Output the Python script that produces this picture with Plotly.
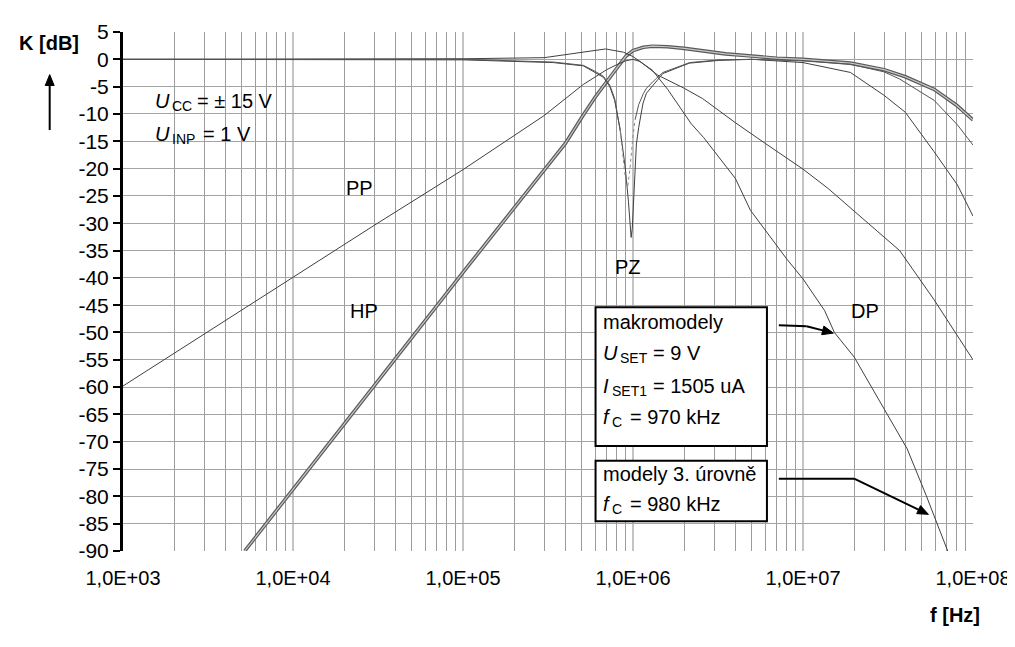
import math
import plotly.graph_objects as go

# ---------------- data ----------------
x_tick_vals = [1e3, 1e4, 1e5, 1e6, 1e7, 1e8]
x_tick_text = ["1,0E+03", "1,0E+04", "1,0E+05", "1,0E+06", "1,0E+07", "1,0E+08"]
y_tick_vals = [5, 0, -5, -10, -15, -20, -25, -30, -35, -40, -45, -50, -55, -60,
               -65, -70, -75, -80, -85, -90]

# HP (high-pass) - two models practically overlapping
hp_f = [5.2e3, 1e4, 3e4, 1e5, 2e5, 3e5, 4e5, 5.1e5, 6e5, 7e5, 8e5, 9.1e5, 1e6,
        1.15e6, 1.3e6, 1.6e6, 2e6, 2.6e6, 3.5e6, 5e6, 7e6, 1e7, 1.4e7, 1.9e7,
        3e7, 4e7, 5.9e7, 8e7, 1e8]
hp_db = [-90.0, -78.7, -59.6, -39.0, -27.2, -20.4, -15.4, -10.2, -6.9, -4.1,
         -1.7, 0.6, 1.6, 2.2, 2.4, 2.3, 2.0, 1.5, 1.0, 0.6, 0.2, 0.0, -0.3,
         -0.7, -1.9, -3.2, -5.5, -8.4, -11.1]

# PP (band-pass)
pp_f = [1e3, 3e3, 1e4, 3e4, 1e5, 1.74e5, 3e5, 5.1e5, 7e5, 8e5, 9e5, 1e6, 1.1e6,
        1.4e6, 2e6, 2.57e6, 4e6, 6e6, 1e7, 1.4e7, 1.9e7, 2.7e7, 3.7e7, 5.9e7,
        8e7, 1e8]
pp_db = [-59.8, -50.3, -40.0, -30.4, -20.2, -15.2, -10.3, -4.6, -1.9, -1.0,
         -0.3, 0.0, -0.4, -2.9, -5.3, -7.2, -11.6, -15.4, -20.1, -23.6, -27.2,
         -31.3, -35.0, -44.0, -50.4, -55.0]

# DP (low-pass)
dp_f = [1e3, 1e5, 3e5, 5.1e5, 6.9e5, 8.8e5, 1e6, 1.3e6, 1.6e6, 2.2e6, 2.6e6,
        4e6, 4.9e6, 8e6, 1e7, 1.34e7, 1.53e7, 2e7, 3e7, 4.1e7, 5.3e7, 7.1e7]
dp_db = [0.0, 0.1, 0.3, 1.3, 1.9, 1.3, 0.5, -2.0, -5.5, -11.8, -14.3, -21.8,
         -27.6, -36.5, -40.2, -46.0, -50.0, -54.5, -64.0, -71.3, -79.8, -90.0]

# PZ (notch) - macromodel
pz_m_f = [1e3, 1e5, 3.4e5, 5.1e5, 5.9e5, 6.7e5, 7.3e5, 7.8e5, 8.4e5, 9e5,
          9.4e5, 9.6e5, 9.75e5, 9.9e5, 1.007e6, 1.026e6, 1.047e6, 1.08e6,
          1.146e6, 1.2e6, 1.37e6, 1.5e6, 1.95e6, 2.15e6, 3.2e6, 5e6, 1e7,
          1.9e7, 3e7, 4e7, 5.9e7, 8.1e7, 1e8]
pz_m_db = [0.0, -0.1, -0.6, -1.2, -2.3, -3.3, -5.0, -7.5, -12.8, -19.8, -26.0,
           -30.5, -32.6, -31.0, -26.0, -20.0, -15.5, -12.5, -8.0, -6.2, -4.0,
           -2.6, -1.2, -0.7, -0.2, 0.0, -0.6, -2.4, -6.6, -9.7, -16.9, -23.0,
           -28.7]

# PZ (notch) - level 3 model
pz_3_f = [1e3, 1e5, 3.4e5, 5.1e5, 5.9e5, 6.7e5, 7.3e5, 7.8e5, 8.4e5, 9e5,
          9.3e5, 9.6e5, 1e6, 1.03e6, 1.08e6, 1.15e6, 1.2e6, 1.37e6, 1.5e6,
          1.95e6, 2.15e6, 3.2e6, 5e6, 1e7, 1.9e7, 3e7, 3.7e7, 5.9e7, 8.1e7,
          1e8]
pz_3_db = [0.0, 0.0, -0.5, -1.1, -2.1, -3.1, -4.7, -7.2, -13.0, -21.5, -23.5,
           -20.0, -14.0, -11.0, -8.3, -6.3, -5.3, -3.5, -2.4, -1.1, -0.6, -0.1,
           0.0, -0.3, -0.9, -2.3, -3.6, -7.5, -12.0, -15.7]
pz_3_dotted_from, pz_3_dotted_to = 8.4e5, 1.03e6

# ---------------- helpers for layout placement (pixels -> paper) ----------------
L, R, T, B = 115, 973, 19, 543


def px(x):
    return (x - L) / (R - L)


def py(y):
    return (B - y) / (B - T)


FONT = "Liberation Sans, Arial, sans-serif"
CURVE = "#404040"

fig = go.Figure()


def add_line(xs, ys, color=CURVE, width=1.0, dash="solid"):
    fig.add_trace(go.Scatter(x=xs, y=ys, mode="lines",
                             line=dict(color=color, width=width, dash=dash),
                             hoverinfo="skip", showlegend=False))


# HP drawn as a double (outlined) stroke
add_line(hp_f, hp_db, color="#5a5a5a", width=3.6)
add_line(hp_f, hp_db, color="#c8c8c8", width=1.2)
add_line(pp_f, pp_db)
add_line(dp_f, dp_db)
add_line(pz_m_f, pz_m_db)

seg_a = [(f, d) for f, d in zip(pz_3_f, pz_3_db) if f <= pz_3_dotted_from]
seg_b = [(f, d) for f, d in zip(pz_3_f, pz_3_db)
         if pz_3_dotted_from <= f <= pz_3_dotted_to]
seg_c = [(f, d) for f, d in zip(pz_3_f, pz_3_db) if f >= pz_3_dotted_to]
add_line([p[0] for p in seg_a], [p[1] for p in seg_a], color="#555555")
add_line([p[0] for p in seg_b], [p[1] for p in seg_b], color="#8a8a8a", dash="dot")
add_line([p[0] for p in seg_c], [p[1] for p in seg_c], color="#555555")

minor_vals = [m * 10 ** e for e in range(3, 8) for m in range(2, 10)]

fig.update_layout(
    width=1015, height=647,
    margin=dict(l=L, r=1015 - R, t=T, b=647 - B, pad=0),
    paper_bgcolor="white", plot_bgcolor="white",
    font=dict(family=FONT, color="black", size=20),
    xaxis=dict(
        type="log", range=[3, 8], tickmode="array",
        tickvals=x_tick_vals, ticktext=x_tick_text,
        showgrid=True, gridcolor="#c4c4c4", gridwidth=2,
        ticks="", showline=False, zeroline=False,
        tickfont=dict(family=FONT, size=20, color="black"),
        ticklabelstandoff=13,
        minor=dict(tickmode="array", tickvals=minor_vals, showgrid=True,
                   gridcolor="#9c9c9c", gridwidth=1, ticks=""),
    ),
    yaxis=dict(
        range=[-90, 5], tickmode="array", tickvals=y_tick_vals,
        ticktext=[str(v) for v in y_tick_vals],
        showgrid=True, gridcolor="#a4a4a4", gridwidth=1,
        zeroline=False, showline=True, linecolor="black", linewidth=3,
        ticks="outside", ticklen=7, tickwidth=2, tickcolor="black",
        tickfont=dict(family=FONT, size=21, color="black"),
    ),
)

shapes = []
# 0 dB axis line with decade ticks
shapes.append(dict(type="line", xref="x", yref="y", x0=3, x1=8, y0=0, y1=0,
                   line=dict(color="black", width=3), layer="above"))
for k in range(4, 9):
    shapes.append(dict(type="line", xref="x", yref="y", x0=k, x1=k,
                       ysizemode="pixel", yanchor=0, y0=0, y1=-7,
                       line=dict(color="black", width=3), layer="above"))

# white label backgrounds (hide grid)
for (x0, y0, x1, y1) in [(137, 74, 292, 152), (333, 160, 391, 196),
                         (337, 284, 395, 322), (605, 240, 663, 277),
                         (842, 285, 900, 320)]:
    shapes.append(dict(type="rect", xref="paper", yref="paper",
                       x0=px(x0), x1=px(x1), y0=py(y1), y1=py(y0),
                       fillcolor="white", line=dict(width=0), layer="between"))

# legend-like boxes
for (x0, y0, x1, y1) in [(592, 297, 765, 437), (592, 452, 765, 513)]:
    shapes.append(dict(type="rect", xref="paper", yref="paper",
                       x0=px(x0), x1=px(x1), y0=py(y1), y1=py(y0),
                       fillcolor="white", line=dict(color="black", width=2),
                       layer="above"))
# connector lines from the boxes
shapes.append(dict(type="line", xref="paper", yref="paper",
                   x0=px(777), x1=px(805), y0=py(315), y1=py(316),
                   line=dict(color="black", width=2), layer="above"))
shapes.append(dict(type="line", xref="paper", yref="paper",
                   x0=px(777), x1=px(853), y0=py(470), y1=py(470),
                   line=dict(color="black", width=2), layer="above"))


def arrow(x0, y0, x1, y1, width=2, head_len=11, head_w=4.5):
    """Arrow drawn as a line plus a filled triangular head (pixel coords)."""
    dx, dy = x1 - x0, y1 - y0
    n = math.hypot(dx, dy)
    ux, uy = dx / n, dy / n
    bx, by = x1 - ux * head_len, y1 - uy * head_len
    shapes.append(dict(type="line", xref="paper", yref="paper",
                       x0=px(x0), y0=py(y0), x1=px(bx + ux), y1=py(by + uy),
                       line=dict(color="black", width=width), layer="above"))
    p1 = (bx - uy * head_w, by + ux * head_w)
    p2 = (bx + uy * head_w, by - ux * head_w)
    path = "M {} {} L {} {} L {} {} Z".format(px(x1), py(y1), px(p1[0]), py(p1[1]),
                                               px(p2[0]), py(p2[1]))
    shapes.append(dict(type="path", xref="paper", yref="paper", path=path,
                       fillcolor="black", line=dict(color="black", width=1),
                       layer="above"))


arrow(41, 118, 41, 62)
arrow(927, 645, 977, 645)
arrow(805, 316, 832, 323)
arrow(853, 470, 928, 506)

fig.update_layout(shapes=shapes)

ann = []


def text(x, y, s, size=20, anchor="left", style="normal", weight="normal"):
    ann.append(dict(xref="paper", yref="paper", x=px(x), y=py(y), text=s,
                    showarrow=False, xanchor=anchor, yanchor="middle",
                    font=dict(family=FONT, size=size, color="black",
                              style=style, weight=weight)))


def symbol_line(y, x_sym, sym, x_sub, sub, x_rest, rest):
    """Italic symbol + subscript + rest, each as its own sized text."""
    text(x_sym, y, sym, style="italic")
    text(x_sub, y + 5, sub, size=14)
    text(x_rest, y, rest)


text(40, 30, "K [dB]", anchor="center", weight="bold")
text(955, 608, "f [Hz]", anchor="center", weight="bold")

symbol_line(89, 145, "U", 162, "CC", 188, "= ± 15 V")
symbol_line(122, 145, "U", 162, "INP", 194, "= 1 V")
text(338, 176, "PP")
text(342, 301, "HP")
text(610, 256, "PZ")
text(848, 301, "DP")

text(598, 312, "makromodely")
symbol_line(343, 598, "U", 615, "SET", 648, "= 9 V")
symbol_line(376, 598, "I", 607, "SET1", 648, "= 1505 uA")
symbol_line(408, 598, "f", 607, "C", 625, "= 970 kHz")
text(598, 465, "modely 3. úrovně")
symbol_line(496, 598, "f", 607, "C", 625, "= 980 kHz")

fig.update_layout(annotations=ann)

fig.write_html("out.html")
